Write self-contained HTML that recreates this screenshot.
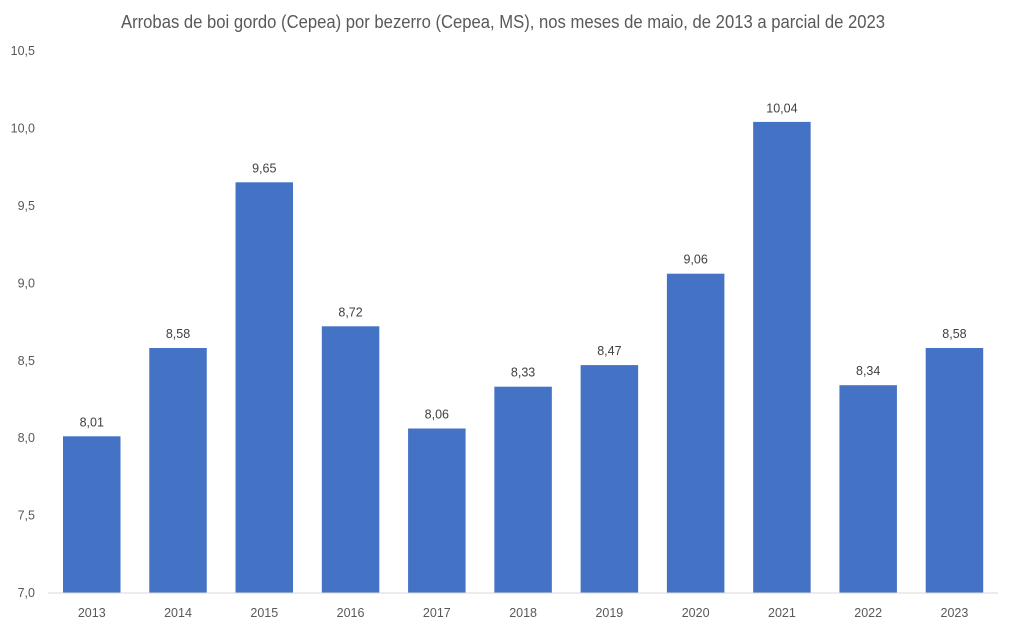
<!DOCTYPE html>
<html>
<head>
<meta charset="utf-8">
<style>
html,body{margin:0;padding:0;background:#fff;}
svg{display:block;}
text{font-family:"Liberation Sans",sans-serif;}
</style>
</head>
<body>
<svg width="1013" height="630" viewBox="0 0 1013 630" xmlns="http://www.w3.org/2000/svg">
<rect width="1013" height="630" fill="#fff"/>
<text x="503" y="28" text-anchor="middle" font-size="18" fill="#595959" textLength="764" lengthAdjust="spacingAndGlyphs">Arrobas de boi gordo (Cepea) por bezerro (Cepea, MS), nos meses de maio, de 2013 a parcial de 2023</text>
<g font-size="12.5" fill="#595959" text-anchor="end">
<text x="35" y="55">10,5</text>
<text x="35" y="132.5">10,0</text>
<text x="35" y="210">9,5</text>
<text x="35" y="287.5">9,0</text>
<text x="35" y="365">8,5</text>
<text x="35" y="442">8,0</text>
<text x="35" y="519.5">7,5</text>
<text x="35" y="597">7,0</text>
</g>
<g fill="#4472C4">
<rect x="63" y="436.3" width="57.5" height="156.4"/>
<rect x="149.27" y="348" width="57.5" height="244.7"/>
<rect x="235.54" y="182.3" width="57.5" height="410.4"/>
<rect x="321.81" y="326.3" width="57.5" height="266.4"/>
<rect x="408.08" y="428.5" width="57.5" height="164.2"/>
<rect x="494.35" y="386.7" width="57.5" height="206"/>
<rect x="580.62" y="365.1" width="57.5" height="227.6"/>
<rect x="666.89" y="273.7" width="57.5" height="319"/>
<rect x="753.16" y="121.9" width="57.5" height="470.8"/>
<rect x="839.43" y="385.2" width="57.5" height="207.5"/>
<rect x="925.7" y="348" width="57.5" height="244.7"/>
</g>
<line x1="48" y1="593" x2="998" y2="593" stroke="#D9D9D9" stroke-width="1"/>
<g font-size="12.5" fill="#404040" text-anchor="middle">
<text x="91.75" y="426.3">8,01</text>
<text x="178.02" y="338">8,58</text>
<text x="264.29" y="172.3">9,65</text>
<text x="350.56" y="316.3">8,72</text>
<text x="436.83" y="418.5">8,06</text>
<text x="523.1" y="376.7">8,33</text>
<text x="609.37" y="355.1">8,47</text>
<text x="695.64" y="263.7">9,06</text>
<text x="781.91" y="112.4">10,04</text>
<text x="868.18" y="375.2">8,34</text>
<text x="954.45" y="338">8,58</text>
</g>
<g font-size="12.5" fill="#595959" text-anchor="middle">
<text x="91.75" y="617">2013</text>
<text x="178.02" y="617">2014</text>
<text x="264.29" y="617">2015</text>
<text x="350.56" y="617">2016</text>
<text x="436.83" y="617">2017</text>
<text x="523.1" y="617">2018</text>
<text x="609.37" y="617">2019</text>
<text x="695.64" y="617">2020</text>
<text x="781.91" y="617">2021</text>
<text x="868.18" y="617">2022</text>
<text x="954.45" y="617">2023</text>
</g>
</svg>
</body>
</html>
